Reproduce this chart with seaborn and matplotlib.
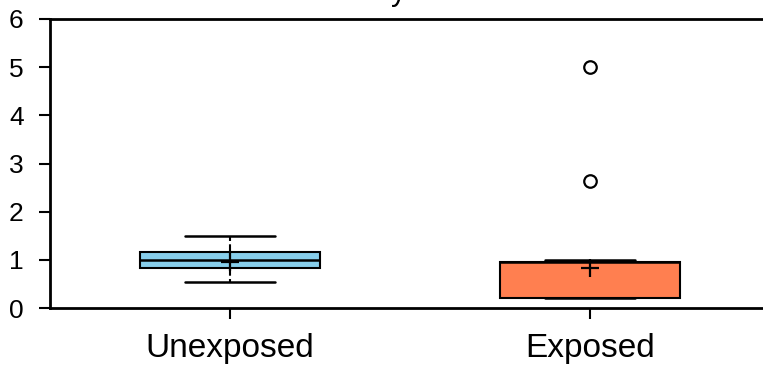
import numpy as np
import pandas as pd
import matplotlib
matplotlib.use('Agg')
import matplotlib.pyplot as plt
import seaborn as sns

# values
groups = ['Unexposed', 'Exposed']
unexposed = [0.54, 0.55, 0.83, 0.85, 0.99, 1.0, 1.16, 1.18, 1.5]
exposed = [0.21] * 12 + [0.95] * 13 + [1.0, 2.64, 5.0]
box_colors = ['#87CEEB', '#FF7F50']

df = pd.DataFrame({
    'group': ['Unexposed'] * len(unexposed) + ['Exposed'] * len(exposed),
    'value': unexposed + exposed,
})

sns.set_style('ticks')
plt.rcParams['font.family'] = ['Liberation Sans', 'DejaVu Sans']
plt.rcParams['text.color'] = 'black'
plt.rcParams['xtick.color'] = 'black'
plt.rcParams['ytick.color'] = 'black'
plt.rcParams['axes.edgecolor'] = 'black'

fig = plt.figure(figsize=(7.63, 3.69), dpi=100)
ax = fig.add_axes([50/763, 61/369, 720/763, 289/369])

sns.boxplot(data=df, x='group', y='value', order=groups, hue='group',
            hue_order=groups, palette=box_colors, saturation=1, width=0.5,
            linecolor='black', linewidth=1.5, legend=False, ax=ax,
            showmeans=True,
            meanprops=dict(marker='+', markersize=13, markeredgecolor='black',
                           markeredgewidth=1.6),
            whiskerprops=dict(linestyle='--', linewidth=1.5),
            capprops=dict(linewidth=1.8),
            medianprops=dict(linewidth=1.8, color='black'),
            flierprops=dict(marker='o', markersize=9, markerfacecolor='white',
                            markeredgecolor='black', markeredgewidth=1.6))

ax.set_xlim(-0.5, 1.5)
ax.set_ylim(0, 6)
ax.set_yticks(range(0, 7))
ax.set_xlabel('')
ax.set_ylabel('')
ax.tick_params(axis='y', labelsize=19, length=8, width=1.5, pad=11)
ax.tick_params(axis='x', labelsize=24, length=8, width=1.5, pad=10)
for s in ax.spines.values():
    s.set_linewidth(2)

fig.text(0.514, 1.0, 'Day 7', ha='center', va='baseline', fontsize=22)

fig.savefig('out.png', dpi=100)
